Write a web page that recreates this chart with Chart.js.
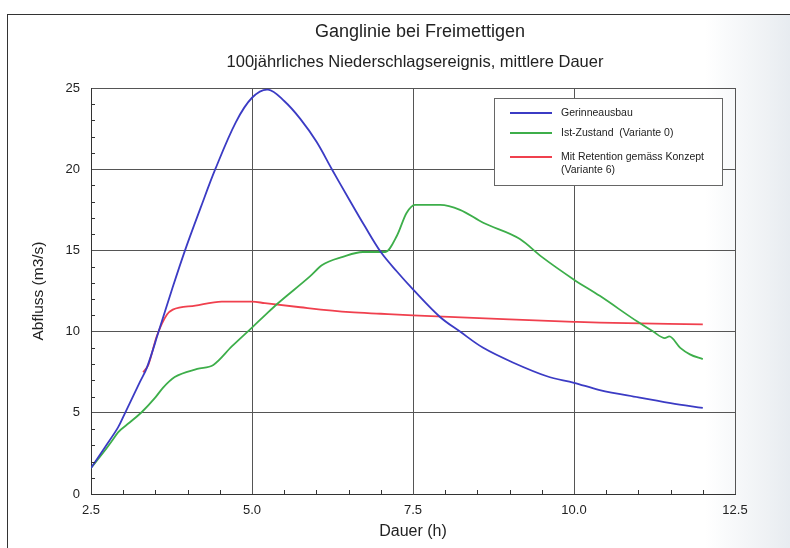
<!DOCTYPE html>
<html>
<head>
<meta charset="utf-8">
<title>Ganglinie bei Freimettigen</title>
<script src="https://cdn.jsdelivr.net/npm/chart.js@4.4.1/dist/chart.umd.min.js"></script>
<style>
  html, body { margin: 0; padding: 0; background: #fff; }
  body { width: 790px; height: 548px; position: relative; overflow: hidden; }
  /* scanned sheet: thin frame top/left, greyish fade at the right edge */
  #sheet {
    position: absolute; left: 7px; top: 14px; right: -10px; bottom: -10px;
    border-left: 1px solid #333; border-top: 1px solid #333;
    background: linear-gradient(to right, #fff 0%, #fff 88%, #eef1f4 96%, #e4e9ee 100%);
  }
  #chart { position: absolute; left: 0; top: 0; }
</style>
</head>
<body>
<div id="sheet"></div>
<canvas id="chart" width="790" height="548"></canvas>
<script>
// --- data (Dauer in h, Abfluss in m3/s) ---
const gerinneX = [2.5, 2.72, 2.92, 3.03, 3.26, 3.37, 3.55, 3.75, 3.96, 4.2, 4.43, 4.75, 5.0, 5.25, 5.5, 5.75, 6.0, 6.24, 6.5, 6.75, 7.0, 7.25, 7.5, 7.92, 8.23, 8.59, 9.05, 9.58, 10.0, 10.4, 11.0, 11.5, 12.0];
const gerinneY = [1.6, 2.9, 4.1, 5.0, 6.9, 7.8, 10.0, 12.5, 15.0, 17.6, 20.0, 22.9, 24.4, 24.9, 24.2, 23.1, 21.7, 20.0, 18.2, 16.5, 14.9, 13.7, 12.6, 10.9, 10.0, 9.0, 8.1, 7.25, 6.85, 6.4, 5.95, 5.6, 5.3];

const istX = [2.5, 2.7, 2.83, 2.92, 3.1, 3.29, 3.49, 3.62, 3.8, 4.15, 4.4, 4.69, 5.0, 5.2, 5.39, 5.9, 6.09, 6.41, 6.72, 7.07, 7.25, 7.4, 7.53, 7.92, 8.23, 8.59, 9.16, 9.5, 10.0, 10.4, 10.99, 11.23, 11.41, 11.48, 11.65, 11.8, 12.0];
const istY = [1.6, 2.6, 3.3, 3.8, 4.4, 5.05, 5.9, 6.55, 7.2, 7.7, 7.95, 9.1, 10.25, 11.0, 11.7, 13.4, 14.1, 14.6, 14.9, 14.9, 15.9, 17.3, 17.8, 17.8, 17.5, 16.7, 15.7, 14.6, 13.2, 12.2, 10.6, 10.0, 9.6, 9.7, 9.0, 8.6, 8.3];

const retentionX = [3.31, 3.39, 3.52, 3.68, 3.77, 4.12, 4.53, 5.0, 5.2, 5.75, 6.52, 7.0, 7.5, 9.0, 10.0, 10.4, 12.0];
const retentionY = [7.5, 7.95, 9.7, 11.05, 11.35, 11.6, 11.85, 11.85, 11.75, 11.5, 11.2, 11.1, 11.0, 10.75, 10.6, 10.55, 10.45];

const seriesLabels = ["Gerinneausbau", "Ist-Zustand  (Variante 0)", "Mit Retention gemäss Konzept\n(Variante 6)"];
const seriesColors = ["#3b3bc4", "#3dae4a", "#f0404e"];
const xTicks = [2.5, 5.0, 7.5, 10.0, 12.5];
const yTicks = [0, 5, 10, 15, 20, 25];

const titleText = "Ganglinie bei Freimettigen";
const subtitleText = "100jährliches Niederschlagsereignis, mittlere Dauer";

function toPoints(xs, ys) {
    return xs.map((x, i) => ({ x: x, y: ys[i] }));
}

Chart.defaults.font.family = "'Liberation Sans', Arial, sans-serif";
Chart.defaults.color = "#222";

// titles drawn at fixed spots so the plot box stays where the scan has it
const titlePlugin = {
    id: "sheetTitles",
    afterDraw(chart) {
        const ctx = chart.ctx;
        ctx.save();
        ctx.fillStyle = "#222";
        ctx.textAlign = "center";
        ctx.textBaseline = "middle";
        ctx.font = "18px 'Liberation Sans', Arial, sans-serif";
        ctx.fillText(titleText, 420, 32);
        ctx.font = "16.5px 'Liberation Sans', Arial, sans-serif";
        ctx.fillText(subtitleText, 415, 62);
        ctx.restore();
    }
};

// small inward ticks: every 0.5 h and every 1 m3/s
const minorTicks = {
    id: "minorTicks",
    afterDraw(chart) {
        const { ctx, chartArea, scales } = chart;
        ctx.save();
        ctx.strokeStyle = "#333";
        ctx.lineWidth = 1;
        ctx.beginPath();
        for (let i = 6; i <= 24; i++) {
            if (i % 5 === 0) continue;
            const px = Math.round(scales.x.getPixelForValue(i / 2)) + 0.5;
            ctx.moveTo(px, chartArea.bottom);
            ctx.lineTo(px, chartArea.bottom - 4);
        }
        for (let j = 1; j < 25; j++) {
            if (j % 5 === 0) continue;
            const py = Math.round(scales.y.getPixelForValue(j)) + 0.5;
            ctx.moveTo(chartArea.left, py);
            ctx.lineTo(chartArea.left + 4, py);
        }
        ctx.stroke();
        ctx.restore();
    }
};

// boxed legend in the upper right, like the original
const boxLegend = {
    id: "boxLegend",
    afterDraw(chart) {
        const ctx = chart.ctx;
        const box = { x: 494.5, y: 98.5, w: 228, h: 87 };
        ctx.save();
        ctx.fillStyle = "#fff";
        ctx.fillRect(box.x, box.y, box.w, box.h);
        ctx.strokeStyle = "#666";
        ctx.lineWidth = 1;
        ctx.strokeRect(box.x, box.y, box.w, box.h);

        const rows = [113, 133, 157];
        ctx.font = "10.5px 'Liberation Sans', Arial, sans-serif";
        ctx.textBaseline = "middle";
        ctx.textAlign = "left";
        chart.data.datasets.forEach((ds, i) => {
            const y = rows[i];
            ctx.strokeStyle = ds.borderColor;
            ctx.lineWidth = 2;
            ctx.beginPath();
            ctx.moveTo(510, y);
            ctx.lineTo(552, y);
            ctx.stroke();
            ctx.fillStyle = "#222";
            ds.label.split("\n").forEach((line, k) => {
                ctx.fillText(line, 561, y + k * 13);
            });
        });
        ctx.restore();
    }
};

const datasets = [
    // the blue curve is smooth in the scan, so plain bezier tension here
    { label: seriesLabels[0], data: toPoints(gerinneX, gerinneY), borderColor: seriesColors[0], tension: 0.35 },
    { label: seriesLabels[1], data: toPoints(istX, istY), borderColor: seriesColors[1], cubicInterpolationMode: "monotone" },
    { label: seriesLabels[2], data: toPoints(retentionX, retentionY), borderColor: seriesColors[2], cubicInterpolationMode: "monotone" }
].map(ds => Object.assign(ds, {
    borderWidth: 1.8,
    pointRadius: 0,
    fill: false
}));

new Chart(document.getElementById("chart"), {
    type: "line",
    data: { datasets: datasets },
    options: {
        responsive: false,
        animation: false,
        layout: { padding: { top: 88, right: 55, left: 0, bottom: 0 } },
        plugins: {
            legend: { display: false },
            tooltip: { enabled: false },
            title: { display: false }
        },
        scales: {
            x: {
                type: "linear",
                min: 2.5,
                max: 12.5,
                afterBuildTicks: scale => { scale.ticks = xTicks.map(v => ({ value: v })); },
                afterFit: scale => { scale.height = 54; },
                ticks: {
                    padding: 9,
                    font: { size: 13 },
                    callback: v => v.toFixed(1)
                },
                grid: { color: "#555", lineWidth: 1, drawTicks: false },
                border: { color: "#333", width: 1 },
                title: {
                    display: true,
                    text: "Dauer (h)",
                    font: { size: 16 },
                    padding: { top: 0, bottom: 7 }
                }
            },
            y: {
                min: 0,
                max: 25,
                afterBuildTicks: scale => { scale.ticks = yTicks.map(v => ({ value: v })); },
                afterFit: scale => { scale.width = 91; },
                ticks: {
                    padding: 11,
                    font: { size: 13 }
                },
                grid: { color: "#555", lineWidth: 1, drawTicks: false },
                border: { color: "#333", width: 1 },
                title: {
                    display: true,
                    text: "Abfluss (m3/s)",
                    font: { size: 15.5 },
                    padding: { top: 29, bottom: 0 }
                }
            }
        }
    },
    plugins: [titlePlugin, minorTicks, boxLegend]
});
</script>
</body>
</html>
